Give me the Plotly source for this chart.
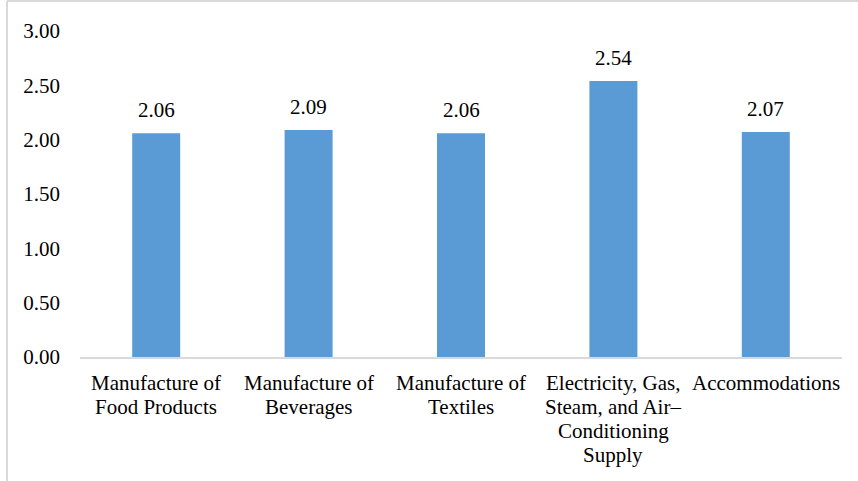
import plotly.graph_objects as go

# category labels, one entry per line
categories = [
    ["Manufacture of", "Food Products"],
    ["Manufacture of", "Beverages"],
    ["Manufacture of", "Textiles"],
    ["Electricity, Gas,", "Steam, and Air–", "Conditioning", "Supply"],
    ["Accommodations"],
]
values = [2.06, 2.09, 2.06, 2.54, 2.07]
y_ticks = [0.0, 0.5, 1.0, 1.5, 2.0, 2.5, 3.0]

W, H = 858, 481
L, R, T, B = 80, 16, 31, 124
FONT = "Liberation Serif"
FS = 21
LINE_STEP = 24

xpos = list(range(len(categories)))

fig = go.Figure(
    go.Bar(
        x=xpos,
        y=values,
        marker=dict(color="#5B9BD5", line=dict(width=0)),
        width=0.315,
        hoverinfo="skip",
    )
)

# value labels above each bar
for i, v in zip(xpos, values):
    fig.add_annotation(
        x=i, y=v, text=f"{v:.2f}", showarrow=False,
        yanchor="bottom", yshift=10, borderpad=0,
        font=dict(family=FONT, size=FS, color="#000000"),
    )

# category labels under the axis, line by line with tight leading
for i, lines in zip(xpos, categories):
    for k, line in enumerate(lines):
        fig.add_annotation(
            x=i, y=0, text=line, showarrow=False,
            xanchor="center", yanchor="top", borderpad=0,
            yshift=-13 - k * LINE_STEP,
            font=dict(family=FONT, size=FS, color="#000000"),
        )

# outer frame lines (left and top)
pw = W - L - R
ph = H - T - B
fig.add_shape(type="line", xref="paper", yref="paper",
              x0=(7 - L) / pw, x1=(7 - L) / pw, y0=(H - B - H) / ph, y1=(H - B - 1) / ph,
              line=dict(color="#d9d9d9", width=2))
fig.add_shape(type="line", xref="paper", yref="paper",
              x0=(7 - L) / pw, x1=(W - L) / pw, y0=(H - B - 1) / ph, y1=(H - B - 1) / ph,
              line=dict(color="#d9d9d9", width=2))

fig.update_layout(
    width=W, height=H,
    margin=dict(l=L, r=R, t=T, b=B),
    paper_bgcolor="white", plot_bgcolor="white",
    showlegend=False,
    font=dict(family=FONT, size=FS, color="#000000"),
    xaxis=dict(
        range=[-0.5, len(categories) - 0.5],
        showline=True, linecolor="#d9d9d9", linewidth=2,
        showgrid=False, ticks="", zeroline=False,
        showticklabels=False, automargin=False,
    ),
    yaxis=dict(
        range=[0, 3.0],
        tickvals=y_ticks,
        ticktext=[f"{t:.2f}" for t in y_ticks],
        showgrid=False, zeroline=False, showline=False, ticks="",
        ticklabelstandoff=19, automargin=False,
        tickfont=dict(family=FONT, size=FS, color="#000000"),
    ),
)

fig.write_html("out.html")
